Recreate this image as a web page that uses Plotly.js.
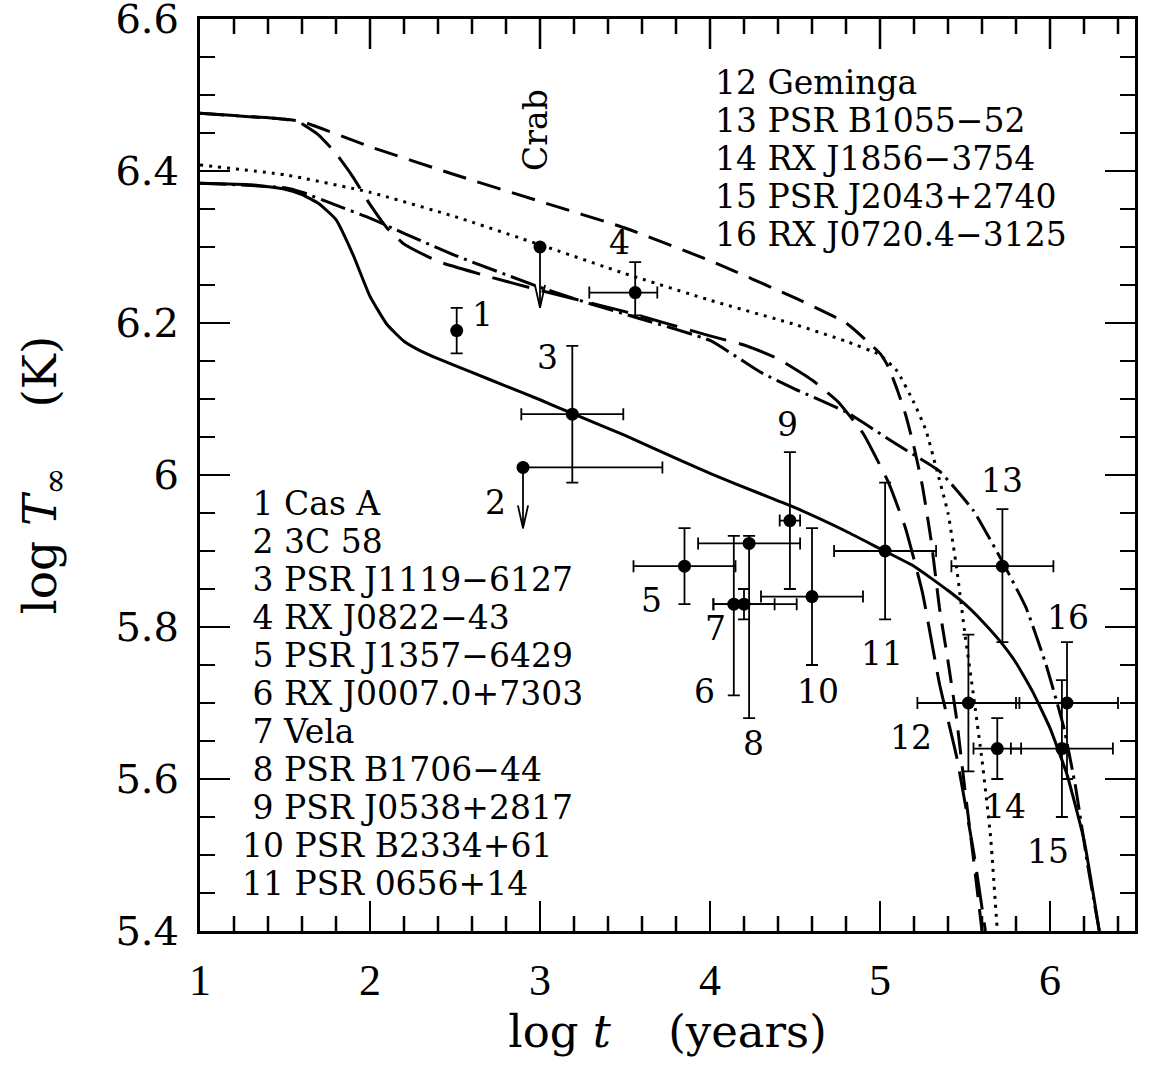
<!DOCTYPE html>
<html><head><meta charset="utf-8">
<script src="https://cdn.plot.ly/plotly-3.0.1.min.js"></script>
<style>html,body{margin:0;padding:0;background:#fff}</style>
</head><body>
<div id="chart" style="width:1152px;height:1076px"></div>
<script>
// ---------- cooling curves (log t, log T_inf) ----------
const solidX = [1.0,1.3,1.5,1.6,1.7,1.8,1.9,2.0,2.1,2.2,2.3,2.4,2.6,2.8,3.0,3.2,3.5,3.8,4.0,4.3,4.5,4.8,5.0,5.2,5.4,5.5,5.6,5.7,5.8,5.9,6.0,6.1,6.2,6.29];
const solidY = [6.384,6.382,6.376,6.369,6.357,6.336,6.290,6.235,6.198,6.176,6.163,6.153,6.135,6.117,6.099,6.080,6.052,6.022,6.002,5.975,5.957,5.926,5.903,5.880,5.848,5.830,5.808,5.783,5.753,5.714,5.667,5.606,5.520,5.400];

const dottedX = [1.0,1.5,2.0,2.5,3.0,3.5,4.0,4.5,4.8,5.0,5.1,5.2,5.27,5.33,5.4,5.45,5.5,5.55,5.6,5.65,5.69];
const dottedY = [6.408,6.395,6.372,6.340,6.303,6.265,6.230,6.198,6.176,6.158,6.137,6.095,6.059,6.010,5.950,5.879,5.790,5.710,5.625,5.525,5.400];

const shortDashX = [1.0,1.5,1.6,2.0,2.5,3.0,3.5,4.0,4.5,4.8,5.0,5.05,5.1,5.15,5.2,5.25,5.3,5.35,5.4,5.45,5.5,5.55,5.60];
const shortDashY = [6.476,6.468,6.465,6.432,6.395,6.360,6.325,6.282,6.233,6.200,6.160,6.142,6.113,6.080,6.037,5.985,5.915,5.825,5.755,5.680,5.585,5.495,5.400];

const longDashX = [1.0,1.5,1.6,1.7,1.8,1.9,2.0,2.1,2.2,2.4,2.7,3.0,3.5,4.0,4.2,4.4,4.6,4.75,4.9,5.05,5.15,5.25,5.35,5.45,5.55,5.62];
const longDashY = [6.476,6.468,6.462,6.447,6.423,6.392,6.356,6.325,6.304,6.281,6.261,6.243,6.215,6.183,6.171,6.153,6.125,6.097,6.055,5.990,5.930,5.845,5.725,5.630,5.505,5.400];

const dashDotX = [1.0,1.5,1.6,1.8,2.0,2.2,2.5,3.0,3.3,3.6,4.0,4.3,4.5,4.8,5.1,5.35,5.55,5.72,5.86,5.98,6.08,6.15,6.22,6.29];
const dashDotY = [6.384,6.378,6.372,6.355,6.338,6.318,6.289,6.247,6.225,6.205,6.177,6.135,6.113,6.083,6.040,6.005,5.953,5.886,5.825,5.748,5.669,5.590,5.489,5.400];

// ---------- observed neutron stars ----------
const srcNum   = [1, 3, 4, 5, 6, 7, 8, 9, 10, 11, 12, 13, 14, 15, 16];
const srcLogT  = [2.51, 3.19, 3.56, 3.85, 4.14, 4.20, 4.23, 4.47, 4.60, 5.03, 5.52, 5.72, 5.69, 6.07, 6.10];
const srcLogTs = [6.19, 6.08, 6.24, 5.88, 5.83, 5.83, 5.91, 5.94, 5.84, 5.90, 5.70, 5.88, 5.64, 5.64, 5.70];
const srcTMinus = [NaN, 0.30, 0.27, 0.30, 0.12, 0.18, 0.30, 0.06, 0.30, 0.30, 0.30, 0.30, 0.14, 0.30, 0.30];
const srcTPlus  = [NaN, 0.30, 0.13, 0.30, 0.37, 0.18, 0.30, 0.06, 0.30, 0.30, 0.30, 0.30, 0.14, 0.30, 0.30];
const srcTsMinus = [0.03, 0.09, 0.03, 0.05, 0.12, 0.02, 0.23, 0.09, 0.09, 0.09, 0.09, 0.10, 0.04, 0.09, 0.10];
const srcTsPlus  = [0.03, 0.09, 0.04, 0.05, 0.09, 0.02, 0.01, 0.09, 0.09, 0.09, 0.09, 0.075, 0.04, 0.09, 0.08];

// upper limits: Crab and 2 (3C 58)
const limLabel  = ['Crab', '2'];
const limLogT   = [3.00, 2.90];
const limLogTs  = [6.30, 6.01];
const limTPlus  = [NaN, 0.82];

// source list
const listNumA = [1,2,3,4,5,6,7,8,9,10,11];
const listNameA = ['Cas A','3C 58','PSR J1119\u22126127','RX J0822\u221243','PSR J1357\u22126429','RX J0007.0+7303','Vela','PSR B1706\u221244','PSR J0538+2817','PSR B2334+61','PSR 0656+14'];
const listNumB = [12,13,14,15,16];
const listNameB = ['Geminga','PSR B1055\u221252','RX J1856\u22123754','PSR J2043+2740','RX J0720.4\u22123125'];

// axis ticks
const xTickVals = [1,2,3,4,5,6];
const xTickText = ['1','2','3','4','5','6'];
const yTickVals = [5.4,5.6,5.8,6.0,6.2,6.4,6.6];
const yTickText = ['5.4','5.6','5.8','6','6.2','6.4','6.6'];

(function drawChart() {
  // ---------- style / layout settings ----------
  const labelFont = {family: 'DejaVu Serif', size: 33, color: '#000'};
  const labelShift = {1:[26,16],3:[-25,57],4:[-16,50],5:[-33,-34],6:[-29,-87],7:[-29,-24],8:[4,-200],9:[-2,96],10:[6,-95],11:[-3,-102],12:[-57,-34],13:[0,86],14:[8,-58],15:[-14,-103],16:[1,86]};
  const limShift = {'Crab':[-5,117],'2':[-28,-35]};
  const arrowLen = 0.08, headHalfW = 0.03, headLen = 0.03;
  const xRange = [1, 6.5], yRange = [5.4, 6.6];
  const plotHeightPx = 1076 - 19 - 145;
  const yPerPx = (yRange[1] - yRange[0]) / plotHeightPx;
  const majorLen = 30, minorLen = 15, xMinorStep = 0.2;

  const curveLine = (dash) => ({color:'#000', width:3, dash:dash, shape:'spline', smoothing:0.4});
  const traceList = [
    {x: solidX, y: solidY, mode:'lines', line: curveLine('solid'), hoverinfo:'skip'},
    {x: dottedX, y: dottedY, mode:'lines', line: curveLine('3px,6px'), hoverinfo:'skip'},
    {x: shortDashX, y: shortDashY, mode:'lines', line: curveLine('24px,12px'), hoverinfo:'skip'},
    {x: longDashX, y: longDashY, mode:'lines', line: curveLine('38px,13px'), hoverinfo:'skip'},
    {x: dashDotX, y: dashDotY, mode:'lines', line: curveLine('26px,6px,3px,6px'), hoverinfo:'skip'}
  ];

  const errStyle = {type:'data', symmetric:false, color:'#000', thickness:1.8, width:6};
  traceList.push({
    x: srcLogT, y: srcLogTs, mode:'markers',
    marker:{color:'#000', size:13},
    error_x: Object.assign({array: srcTPlus, arrayminus: srcTMinus}, errStyle),
    error_y: Object.assign({array: srcTsPlus, arrayminus: srcTsMinus}, errStyle)
  });
  traceList.push({
    x: limLogT, y: limLogTs, mode:'markers',
    marker:{color:'#000', size:13},
    error_x: Object.assign({array: limTPlus, arrayminus: limTPlus.map(() => NaN)}, errStyle)
  });
  // upper-limit arrows
  const arrowXs = [], arrowYs = [];
  limLogT.forEach((xv, i) => {
    const y0 = limLogTs[i], tip = y0 - arrowLen;
    arrowXs.push(xv, xv, null, xv - headHalfW, xv, xv + headHalfW, null);
    arrowYs.push(y0, tip, null, tip + headLen, tip, tip + headLen, null);
  });
  traceList.push({x: arrowXs, y: arrowYs, mode:'lines', line:{color:'#000', width:1.8}, hoverinfo:'skip', connectgaps:false});

  // extra x tick marks: top edge (major + minor) and bottom minor, drawn as a line trace
  const tkX = [], tkY = [];
  const nSteps = Math.round((xRange[1] - xRange[0]) / xMinorStep);
  for (let k = 1; k < nSteps; k++) {
    const v = +(xRange[0] + k * xMinorStep).toFixed(6);
    const isMajor = Math.abs(v - Math.round(v)) < 1e-6;
    const len = (isMajor ? majorLen : minorLen) * yPerPx;
    tkX.push(v, v, null); tkY.push(yRange[1], yRange[1] - len, null);
    if (!isMajor) { tkX.push(v, v, null); tkY.push(yRange[0], yRange[0] + len, null); }
  }
  traceList.push({x: tkX, y: tkY, mode:'lines', line:{color:'#000', width:2.5}, hoverinfo:'skip', connectgaps:false, cliponaxis:false});

  const annList = [];
  srcNum.forEach((n, i) => {
    const s = labelShift[n] || [0,0];
    annList.push({x: srcLogT[i], y: srcLogTs[i], xref:'x', yref:'y', text: String(n), showarrow:false,
      xshift: s[0], yshift: s[1], font: labelFont, xanchor:'center', yanchor:'middle'});
  });
  limLabel.forEach((t, i) => {
    const s = limShift[t];
    annList.push({x: limLogT[i], y: limLogTs[i], xref:'x', yref:'y', text: t, showarrow:false,
      xshift: s[0], yshift: s[1], font: labelFont, textangle: t === 'Crab' ? -90 : 0, xanchor:'center', yanchor:'middle'});
  });
  listNumA.forEach((n, i) => {
    annList.push({x: 1.235, y: 5.963 - 0.05 * i, xref:'x', yref:'y', showarrow:false, xanchor:'left', yanchor:'middle',
      text: (n < 10 ? '\u00A0' : '') + n + '\u00A0' + listNameA[i], font: labelFont});
  });
  listNumB.forEach((n, i) => {
    annList.push({x: 4.018, y: 6.516 - 0.05 * i, xref:'x', yref:'y', showarrow:false, xanchor:'left', yanchor:'middle',
      text: n + '\u00A0' + listNameB[i], font: labelFont});
  });

  const axisCommon = {
    ticks:'inside', ticklen:majorLen, tickwidth:2.5, tickcolor:'#000',
    showline:true, linewidth:3, linecolor:'#000', mirror:'ticks',
    showgrid:false, zeroline:false, tickmode:'array', ticklabeloverflow:'allow'
  };
  const chartLayout = {
    width:1152, height:1076,
    margin:{l:200, r:17, t:19, b:145},
    paper_bgcolor:'#fff', plot_bgcolor:'#fff',
    showlegend:false,
    xaxis: Object.assign({}, axisCommon, {
      range: xRange, tickvals: xTickVals, ticktext: xTickText,
      tickfont:{family:'Liberation Serif', size:44, color:'#000'},
      ticklabelstandoff: 8,
      minor:{tick0:1, dtick:xMinorStep, ticks:'inside', ticklen:minorLen, tickwidth:2.5, tickcolor:'#000'},
      title:{text:'log <i>t</i>\u00A0\u00A0\u00A0\u00A0(years)', font:{family:'DejaVu Serif', size:45, color:'#000'}, standoff:8}
    }),
    yaxis: Object.assign({}, axisCommon, {
      range: yRange, tickvals: yTickVals, ticktext: yTickText,
      tickfont:{family:'DejaVu Serif', size:40, color:'#000'},
      ticklabelstandoff: 10,
      minor:{tick0:5.4, dtick:0.05, ticks:'inside', ticklen:minorLen, tickwidth:2.5, tickcolor:'#000'},
      title:{text:'log <i>T</i><sub>\u221E</sub>\u00A0\u00A0\u00A0\u00A0(K)', font:{family:'DejaVu Serif', size:47, color:'#000'}, standoff:44}
    }),
    annotations: annList
  };
  Plotly.newPlot('chart', traceList, chartLayout, {displayModeBar:false, staticPlot:true});
})();
</script>
</body></html>
